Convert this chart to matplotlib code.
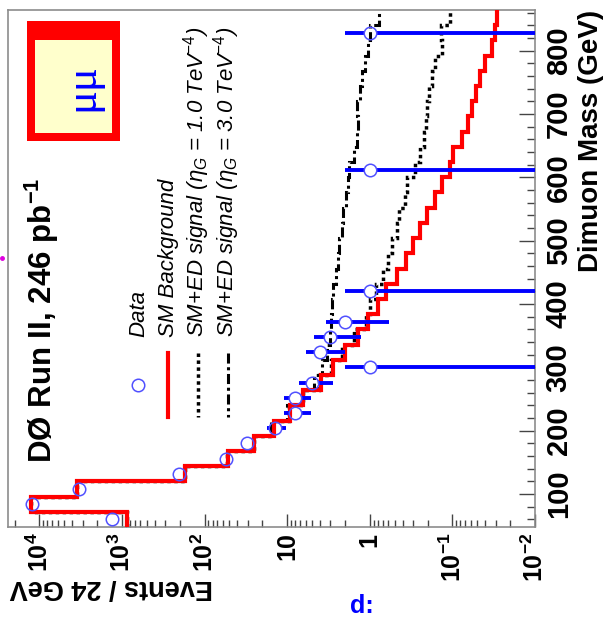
import numpy as np
import matplotlib
matplotlib.use("Agg")
import matplotlib.pyplot as plt
from matplotlib.ticker import FixedLocator, FixedFormatter, NullFormatter
from matplotlib.lines import Line2D
from matplotlib.patches import Rectangle

plt.rcParams['font.family'] = ['Liberation Sans', 'DejaVu Sans']
plt.rcParams['mathtext.fontset'] = 'custom'
plt.rcParams['mathtext.rm'] = 'Liberation Sans'
plt.rcParams['mathtext.it'] = 'Liberation Sans:italic'
plt.rcParams['mathtext.bf'] = 'Liberation Sans:bold'

# ---------------- data ----------------
bin_edges = [48, 72, 96, 120, 144, 168, 192, 216, 240, 264, 288, 312, 336, 360,
             384, 408, 432, 456, 480, 504, 528, 552, 576, 600, 624, 648, 672,
             696, 720, 744, 768, 792, 816, 840, 864]
sm_background = [875, 12700, 3470, 172, 52, 25, 14.6, 9.25, 6.38, 3.93, 2.77,
                 2.0, 1.38, 1.04, 0.79, 0.637, 0.465, 0.365, 0.297, 0.246,
                 0.201, 0.163, 0.135, 0.107, 0.0975, 0.077, 0.064, 0.0583,
                 0.0518, 0.0464, 0.0403, 0.0334, 0.0305, 0.0286]
signal_eta1 = [880, 12750, 3490, 174, 53, 25.5, 15, 9.5, 6.5, 4.1, 2.95, 2.15,
               1.55, 1.1, 1.0, 0.84, 0.687, 0.597, 0.543, 0.472, 0.44, 0.375,
               0.352, 0.286, 0.246, 0.221, 0.21, 0.205, 0.19, 0.178, 0.162,
               0.135, 0.137, 0.107]
signal_eta3 = [885, 12800, 3520, 176, 54, 26, 15.5, 10, 6.7, 4.8, 3.82, 3.33,
               3.0, 2.95, 2.85, 2.77, 2.57, 2.40, 2.34, 2.19, 2.09, 1.94, 1.86,
               1.8, 1.54, 1.44, 1.38, 1.42, 1.31, 1.25, 1.14, 1.04, 1.0, 0.77]
data_mass = [60, 84, 108, 132, 156, 180, 204, 228, 252, 276, 300, 324, 348,
             372, 420, 612, 828]
data_counts = [1330, 12370, 3300, 207, 55, 31, 14, 8, 8, 5, 1, 4, 3, 2, 1, 1, 1]

log_ticks = [1e-2, 1e-1, 1, 10, 1e2, 1e3, 1e4]
log_labels = [r'$\mathbf{10^{-2}}$', r'$\mathbf{10^{-1}}$', '1', '10',
              r'$\mathbf{10^{2}}$', r'$\mathbf{10^{3}}$', r'$\mathbf{10^{4}}$']
mass_ticks = [100, 200, 300, 400, 500, 600, 700, 800]
mass_minor = list(range(60, 861, 20))

# ---------------- figure ----------------
W, H = 603, 619
fig = plt.figure(figsize=(W / 100, H / 100), dpi=100)


def fx(x):
    return x / W


def fy(y):
    return 1 - y / H


ax = fig.add_axes([fx(8), fy(527), (535 - 8) / W, (527 - 10) / H])
ax.set_xscale('log')
ax.set_xlim(2.4e4, 1e-2)
ax.set_ylim(48, 864)

spine_col = '#8c8c8c'
for s in ax.spines.values():
    s.set_color(spine_col)
    s.set_linewidth(1.2)

# axes ticks
ax.xaxis.set_major_locator(FixedLocator(log_ticks))
ax.xaxis.set_major_formatter(FixedFormatter(log_labels))
minor_log = [m * 10.0 ** e for e in range(-2, 5) for m in range(2, 10)]
ax.xaxis.set_minor_locator(FixedLocator(minor_log))
ax.xaxis.set_minor_formatter(NullFormatter())
ax.tick_params(axis='x', which='major', direction='in', length=9.5, width=1,
               color='#444444', labelsize=18, labelrotation=90, pad=4,
               bottom=True, top=False)
ax.tick_params(axis='x', which='minor', direction='in', length=5, width=1,
               color='#444444', bottom=True, top=False)
for lab in ax.get_xticklabels():
    lab.set_fontweight('bold')
    lab.set_va('top')
    lab.set_ha('center')

ax.yaxis.tick_right()
ax.yaxis.set_major_locator(FixedLocator(mass_ticks))
ax.yaxis.set_minor_locator(FixedLocator(mass_minor))
ax.tick_params(axis='y', which='major', direction='in', length=11.5, width=1,
               color='#444444', labelsize=21, labelrotation=90, pad=7,
               right=True, left=False)
ax.tick_params(axis='y', which='minor', direction='in', length=5.8, width=1,
               color='#444444', right=True, left=False)
for lab in ax.get_yticklabels():
    lab.set_fontweight('bold')
    lab.set_va('center')

# histograms
ax.stairs(signal_eta3, bin_edges, orientation='horizontal', baseline=None,
          color='black', lw=2.2, linestyle=(0, (3.3, 1.2, 1, 1.2)), zorder=2)
ax.stairs(signal_eta1, bin_edges, orientation='horizontal', baseline=None,
          color='black', lw=2.5, linestyle=(0, (1, 1)), zorder=2)
ax.stairs(sm_background, bin_edges, orientation='horizontal', baseline=None,
          color='#ff0000', lw=3.0, zorder=3)

# data with sqrt(N) error bars, gap around marker
ms = 9.0
r_px = ms / 2 * 100 / 72
fig.canvas.draw()
tr = ax.transData
inv = tr.inverted()
for m, n in zip(data_mass, data_counts):
    err = np.sqrt(n)
    lo = max(n - err, 1e-4)
    hi = n + err
    cx, cy = tr.transform((n, m))
    xa = tr.transform((hi, m))[0]
    xb = tr.transform((lo, m))[0]
    x1, x2 = min(xa, xb), max(xa, xb)
    for s0, s1 in ((x1, cx - r_px), (cx + r_px, x2)):
        if s1 > s0:
            d0 = inv.transform((s0, cy))[0]
            d1 = inv.transform((s1, cy))[0]
            ax.plot([d0, d1], [m, m], color='#0000ff', lw=2.8,
                     solid_capstyle='butt', zorder=4)
ax.plot(data_counts, data_mass, 'o', mfc='none', mec='#5050ff', ms=ms,
        mew=1.1, zorder=5)

# axis titles
fig.text(fx(598), fy(10), 'Dimuon Mass (GeV)', rotation=90,
         rotation_mode='anchor', ha='right', va='baseline', fontsize=20,
         fontweight='bold')
fig.text(fx(10), fy(580), 'Events / 24 GeV', rotation=180,
         rotation_mode='anchor', ha='right', va='baseline', fontsize=19.5,
         fontweight='bold')

# title
fig.text(fx(52), fy(463), r'DØ Run II, 246 pb$^{\mathbf{-1}}$', rotation=90,
         rotation_mode='anchor', ha='left', va='baseline', fontsize=22.5,
         fontweight='bold')

# legend
leg_x = [138, 168, 198, 228]
leg_text = ['Data', 'SM Background',
            r'SM+ED signal ($\eta_{G}$ = 1.0 TeV$^{-4}$)',
            r'SM+ED signal ($\eta_{G}$ = 3.0 TeV$^{-4}$)']
fig.add_artist(Line2D([fx(138)], [fy(385)], marker='o', mfc='none',
                      mec='#5050ff', ms=ms, mew=1.1, ls='none',
                      transform=fig.transFigure))
fig.add_artist(Line2D([fx(168), fx(168)], [fy(353), fy(417)], color='#ff0000',
                      lw=3.0, transform=fig.transFigure))
fig.add_artist(Line2D([fx(198), fx(198)], [fy(353), fy(417)], color='black',
                      lw=2.5, ls=(0, (1, 1)), transform=fig.transFigure))
fig.add_artist(Line2D([fx(228), fx(228)], [fy(353), fy(417)], color='black',
                      lw=2.2, ls=(0, (3.3, 1.2, 1, 1.2)),
                      transform=fig.transFigure))
for x, t in zip(leg_x, leg_text):
    fig.text(fx(x + 6), fy(337), t, rotation=90, rotation_mode='anchor',
             ha='left', va='baseline', fontsize=16, style='italic')

# mu-mu box
fig.add_artist(Rectangle((fx(27), fy(141)), (120 - 27) / W, (141 - 21) / H,
                         facecolor='#ff0000', edgecolor='none',
                         transform=fig.transFigure))
fig.add_artist(Rectangle((fx(35), fy(133)), (112 - 35) / W, (133 - 40) / H,
                         facecolor='#ffffcc', edgecolor='none',
                         transform=fig.transFigure))
fig.text(fx(82), fy(87), 'μμ', rotation=90, ha='center', va='center',
         fontsize=32, color='#0000ff', family=['Liberation Serif', 'DejaVu Serif'])

# stray marks at the figure edges of the original page
fig.add_artist(Line2D([fx(1.5)], [fy(258)], marker='o', ms=2.5, color='#e000e0',
                      ls='none', transform=fig.transFigure))
fig.text(fx(350), fy(594), 'd:', ha='left', va='top', fontsize=18,
         fontweight='bold', color='#0000ff')

fig.savefig('out.png', dpi=100)
